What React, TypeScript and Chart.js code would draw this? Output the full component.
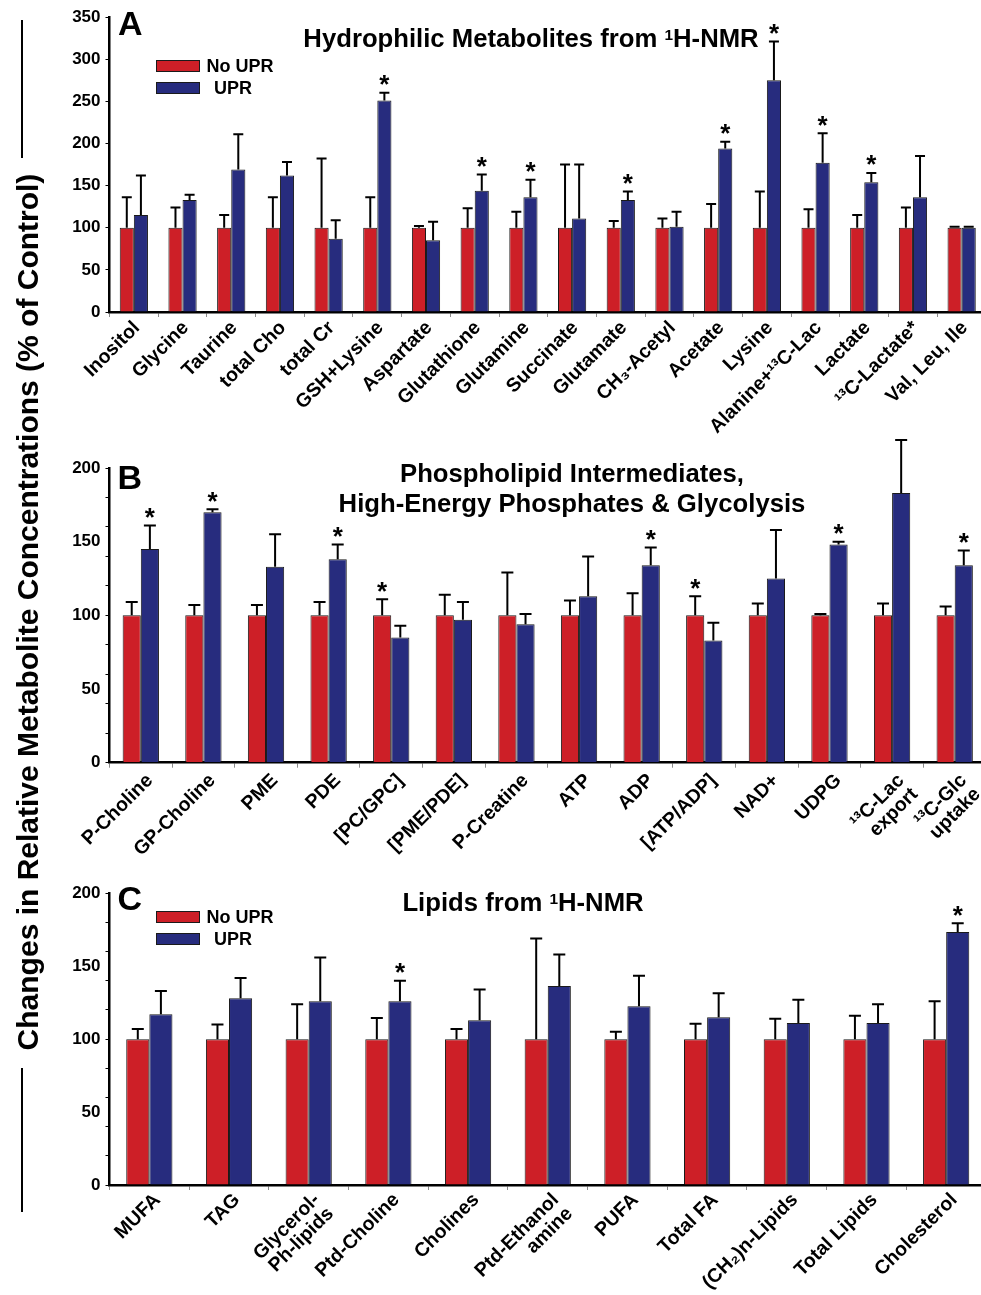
import React, { useEffect, useRef } from "react";
import { Chart, registerables } from "chart.js";
Chart.register(...registerables);

const FONT = '"Liberation Sans", Arial, Helvetica, sans-serif';
const RED = "#CD1F27";
const BLUE = "#272C7E";

// ---------- Panel A: Hydrophilic metabolites ----------
const catsA = ["Inositol", "Glycine", "Taurine", "total Cho", "total Cr", "GSH+Lysine", "Aspartate", "Glutathione", "Glutamine", "Succinate", "Glutamate", "CH\u2083-Acetyl", "Acetate", "Lysine", "Alanine+\u00B9\u00B3C-Lac", "Lactate", "\u00B9\u00B3C-Lactate*", "Val, Leu, Ile"];
const noUprA = [100, 100, 100, 100, 100, 100, 100, 100, 100, 100, 100, 100, 100, 100, 100, 100, 100, 100];
const uprA = [115, 133, 169, 162, 87, 251, 85, 144, 136, 111, 133, 101, 194, 275, 177, 154, 136, 100];
const noUprSdA = [36, 24, 15, 36, 82, 36, 2, 23, 19, 75, 8, 11, 28, 43, 22, 15, 24, 1];
const uprSdA = [47, 6, 42, 16, 22, 9, 22, 19, 21, 64, 10, 18, 8, 46, 35, 11, 49, 1];
const sigNoUprA: number[] = [];
const sigUprA = [5, 7, 8, 10, 12, 13, 14, 15];

// ---------- Panel B: Phospholipid intermediates ----------
const catsB: (string | string[])[] = ["P-Choline", "GP-Choline", "PME", "PDE", "[PC/GPC]", "[PME/PDE]", "P-Creatine", "ATP", "ADP", "[ATP/ADP]", "NAD+", "UDPG", ["\u00B9\u00B3C-Lac", "export"], ["\u00B9\u00B3C-Glc", "uptake"]];
const noUprB = [100, 100, 100, 100, 100, 100, 100, 100, 100, 100, 100, 100, 100, 100];
const uprB = [145, 170, 133, 138, 85, 97, 94, 113, 134, 83, 125, 148, 183, 134];
const noUprSdB = [9, 7, 7, 9, 11, 14, 29, 10, 15, 13, 8, 1, 8, 6];
const uprSdB = [16, 2, 22, 10, 8, 12, 7, 27, 12, 12, 33, 2, 36, 10];
const sigNoUprB = [4, 9];
const sigUprB = [0, 1, 3, 8, 11, 13];

// ---------- Panel C: Lipids ----------
const catsC: (string | string[])[] = ["MUFA", "TAG", ["Glycerol-", "Ph-lipids"], "Ptd-Choline", "Cholines", ["Ptd-Ethanol", "amine"], "PUFA", "Total FA", "(CH\u2082)n-Lipids", "Total Lipids", "Cholesterol"];
const noUprC = [100, 100, 100, 100, 100, 100, 100, 100, 100, 100, 100];
const uprC = [117, 128, 126, 126, 113, 136.5, 122.5, 115, 111, 111, 173.5];
const noUprSdC = [7, 10, 24, 14.5, 7, 69, 5, 10.5, 14, 16, 26];
const uprSdC = [16, 14, 30, 14, 21, 21.5, 21, 16.5, 16, 13, 6];
const sigNoUprC: number[] = [];
const sigUprC = [3, 10];

const seriesNames = ["No UPR", "UPR"];

const errorBarPlugin = {
  id: "errbars",
  afterDatasetsDraw(chart: any) {
    const ctx = chart.ctx;
    const ys = chart.scales.y;
    chart.data.datasets.forEach((ds: any, di: number) => {
      const meta = chart.getDatasetMeta(di);
      meta.data.forEach((el: any, i: number) => {
        const v = ds.data[i];
        const yTop = ys.getPixelForValue(v);
        const yErr = ys.getPixelForValue(v + ds.sd[i]);
        const cap = ds.cap;
        ctx.save();
        ctx.strokeStyle = "#000";
        ctx.lineWidth = 2;
        ctx.beginPath();
        ctx.moveTo(el.x, yTop);
        ctx.lineTo(el.x, yErr);
        ctx.moveTo(el.x - cap, yErr);
        ctx.lineTo(el.x + cap, yErr);
        ctx.stroke();
        if (ds.sig.includes(i)) {
          ctx.fillStyle = "#000";
          ctx.font = `bold 26px ${FONT}`;
          ctx.textAlign = "center";
          ctx.textBaseline = "alphabetic";
          ctx.fillText("*", el.x, yErr + 0.5);
        }
        ctx.restore();
      });
    });
  },
};

type PanelProps = {
  top: number;
  height: number;
  labels: (string | string[])[];
  noUpr: number[];
  upr: number[];
  noUprSd: number[];
  uprSd: number[];
  sigNo: number[];
  sigUp: number[];
  yMax: number;
  yStep: number;
  labelEvery: number;
  tickEvery: number;
  padTop: number;
  xHeight: number;
  cap: number;
  labelOffset: number;
  labelPad: number;
};

function Panel(p: PanelProps) {
  const ref = useRef<HTMLCanvasElement | null>(null);
  useEffect(() => {
    if (!ref.current) return;
    const chart = new Chart(ref.current, {
      type: "bar",
      data: {
        labels: p.labels,
        datasets: [
          {
            label: seriesNames[0],
            data: p.noUpr,
            backgroundColor: RED,
            borderColor: "#1a1a1a",
            borderWidth: 1,
            sd: p.noUprSd,
            sig: p.sigNo,
            cap: p.cap,
          } as any,
          {
            label: seriesNames[1],
            data: p.upr,
            backgroundColor: BLUE,
            borderColor: "#1a1a1a",
            borderWidth: 1,
            sd: p.uprSd,
            sig: p.sigUp,
            cap: p.cap,
          } as any,
        ],
      },
      options: {
        responsive: false,
        animation: false,
        events: [],
        datasets: { bar: { categoryPercentage: 0.58, barPercentage: 1 } },
        layout: { padding: { top: p.padTop, left: 0, right: 0, bottom: 0 } },
        plugins: { legend: { display: false }, tooltip: { enabled: false }, title: { display: false } },
        scales: {
          x: {
            grid: {
              display: true,
              drawOnChartArea: false,
              drawTicks: true,
              tickLength: 5,
              color: "#8a8a8a",
              lineWidth: 1,
              offset: true,
            },
            border: { display: true, color: "#000", width: 2.5 },
            ticks: {
              autoSkip: false,
              minRotation: 45,
              maxRotation: 45,
              padding: p.labelPad,
              labelOffset: p.labelOffset,
              color: "#000",
              font: { family: FONT, size: 19.5, weight: "bold", lineHeight: 1.0 },
            },
            afterFit: (s: any) => {
              s.height = p.xHeight;
              s.paddingLeft = 0;
              s.paddingRight = 0;
            },
          },
          y: {
            min: 0,
            max: p.yMax,
            ticks: {
              stepSize: p.yStep,
              autoSkip: false,
              padding: 5,
              color: "#000",
              font: { family: FONT, size: 17, weight: "bold" },
              callback: (v: any) => (Math.round(v) % p.labelEvery === 0 ? String(v) : ""),
            },
            grid: {
              drawOnChartArea: false,
              drawTicks: true,
              tickLength: 4,
              tickWidth: 1,
              tickColor: (c: any) => (c.tick && Math.round(c.tick.value) % p.tickEvery === 0 ? "#000" : "rgba(0,0,0,0)"),
            },
            border: { display: true, color: "#000", width: 2.5 },
            afterFit: (s: any) => {
              s.width = 109.5;
              s.paddingTop = 0;
              s.paddingBottom = 0;
            },
          },
        },
      } as any,
      plugins: [errorBarPlugin],
    });
    return () => chart.destroy();
  }, []);
  return (
    <canvas
      ref={ref}
      width={986}
      height={p.height}
      style={{ position: "absolute", left: 0, top: p.top, width: 986, height: p.height }}
    />
  );
}

function Txt(props: { x: number; base: number; size: number; center?: boolean; children: any }) {
  const { x, base, size, center, children } = props;
  return (
    <div
      style={{
        position: "absolute",
        left: x,
        top: base - 0.8465 * size,
        fontSize: size,
        lineHeight: `${size}px`,
        fontWeight: "bold",
        fontFamily: FONT,
        whiteSpace: "nowrap",
        color: "#000",
        transform: center ? "translateX(-50%)" : undefined,
      }}
    >
      {children}
    </div>
  );
}

function Sup({ children }: { children: any }) {
  return <span style={{ fontSize: "0.6em", position: "relative", top: "-0.5em" }}>{children}</span>;
}

function Legend({ top, gap }: { top: number; gap: number }) {
  const box = (t: number, c: string) => (
    <div
      style={{
        position: "absolute",
        left: 155.5,
        top: t,
        width: 44,
        height: 12,
        background: c,
        border: "1.5px solid #1a1a1a",
        boxSizing: "border-box",
      }}
    />
  );
  return (
    <>
      {box(top, RED)}
      {box(top + gap, BLUE)}
      <Txt x={206.5} base={top + 12.2} size={18}>{seriesNames[0]}</Txt>
      <Txt x={214} base={top + gap + 12.2} size={18}>{seriesNames[1]}</Txt>
    </>
  );
}

export default function App() {
  useEffect(() => {
    document.body.style.margin = "0";
  }, []);
  return (
    <div
      style={{
        position: "absolute",
        left: 0,
        top: 0,
        width: 981,
        height: 1295,
        overflow: "hidden",
        background: "#fff",
        fontFamily: FONT,
      }}
    >
      <Panel
        top={0}
        height={455}
        labels={catsA}
        noUpr={noUprA}
        upr={uprA}
        noUprSd={noUprSdA}
        uprSd={uprSdA}
        sigNo={sigNoUprA}
        sigUp={sigUprA}
        yMax={350}
        yStep={50}
        labelEvery={50}
        tickEvery={50}
        padTop={17}
        xHeight={143}
        cap={5}
        labelOffset={3}
        labelPad={1}
      />
      <Panel
        top={425}
        height={450}
        labels={catsB}
        noUpr={noUprB}
        upr={uprB}
        noUprSd={noUprSdB}
        uprSd={uprSdB}
        sigNo={sigNoUprB}
        sigUp={sigUprB}
        yMax={200}
        yStep={10}
        labelEvery={50}
        tickEvery={20}
        padTop={43}
        xHeight={112.3}
        cap={6}
        labelOffset={9}
        labelPad={3}
      />
      <Panel
        top={875}
        height={420}
        labels={catsC}
        noUpr={noUprC}
        upr={uprC}
        noUprSd={noUprSdC}
        uprSd={uprSdC}
        sigNo={sigNoUprC}
        sigUp={sigUprC}
        yMax={200}
        yStep={10}
        labelEvery={50}
        tickEvery={20}
        padTop={18.3}
        xHeight={110}
        cap={6}
        labelOffset={8}
        labelPad={0}
      />

      {/* panel letters */}
      <Txt x={118} base={35} size={34}>A</Txt>
      <Txt x={117.5} base={489} size={34}>B</Txt>
      <Txt x={117.5} base={909.5} size={34}>C</Txt>

      {/* titles */}
      <Txt x={531} base={48} size={25.7} center>
        Hydrophilic Metabolites from <Sup>1</Sup>H-NMR
      </Txt>
      <Txt x={572} base={483} size={25.7} center>
        Phospholipid Intermediates,
      </Txt>
      <Txt x={572} base={513} size={25.7} center>
        High-Energy Phosphates &amp; Glycolysis
      </Txt>
      <Txt x={523} base={912} size={25.7} center>
        Lipids from <Sup>1</Sup>H-NMR
      </Txt>

      <Legend top={60} gap={22.3} />
      <Legend top={911} gap={22.3} />

      {/* shared y-axis title */}
      <div
        style={{
          position: "absolute",
          left: 28 - 460,
          top: 612 - 15,
          width: 920,
          height: 30,
          lineHeight: "30px",
          fontSize: 30,
          fontWeight: "bold",
          fontFamily: FONT,
          textAlign: "center",
          whiteSpace: "nowrap",
          transform: "rotate(-90deg)",
          transformOrigin: "50% 50%",
          color: "#000",
        }}
      >
        Changes in Relative Metabolite Concentrations (% of Control)
      </div>
      <div style={{ position: "absolute", left: 20.5, top: 20, width: 2.5, height: 138, background: "#000" }} />
      <div style={{ position: "absolute", left: 20.5, top: 1068, width: 2.5, height: 144, background: "#000" }} />
    </div>
  );
}
